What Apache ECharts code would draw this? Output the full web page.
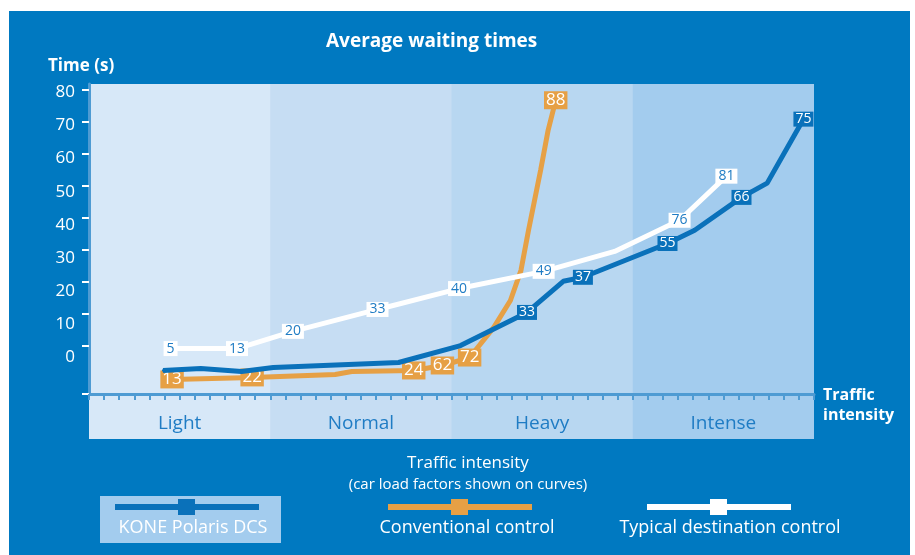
<!DOCTYPE html>
<html>
<head>
<meta charset="utf-8">
<script src="https://cdn.jsdelivr.net/npm/echarts@6/dist/echarts.min.js"></script>
<style>
  html, body { margin: 0; padding: 0; background: #fff; }
  #chart { width: 915px; height: 555px; }
</style>
</head>
<body>
<div id="chart"></div>
<script>
// traffic intensity bands (12 tick steps each on the x axis)
const bandNames = ['Light', 'Normal', 'Heavy', 'Intense']
const bandStart = [0, 12, 24, 36]
const axisEnd = 48
const timeTicks = [0, 10, 20, 30, 40, 50, 60, 70, 80]

// KONE Polaris DCS
const koneX = [4.9, 7.4, 10.1, 12.2, 20.5, 24.6, 29.0, 31.4, 32.7, 38.3, 40.1, 43.2, 44.9, 47.3]
const koneY = [-3.9, -3.3, -4.2, -3.0, -1.5, 3.6, 13.6, 23.0, 24.2, 34.4, 38.4, 48.3, 52.6, 71.9]
const koneLoad = [null, null, null, null, null, null, 33, null, 37, 55, null, 66, null, 75]

// Conventional control
const convX = [5.5, 10.8, 16.3, 17.4, 21.5, 23.4, 25.2, 26.8, 27.9, 28.6, 29.1, 29.9, 30.4, 30.9]
const convY = [-6.6, -6.0, -5.1, -4.2, -3.9, -2.4, 0, 9.1, 17.2, 26.3, 38.4, 56.5, 68.6, 77.6]
const convLoad = [13, 22, null, null, 24, 62, 72, null, null, null, null, null, null, 88]

// Typical destination control
const destX = [5.4, 9.8, 13.5, 19.1, 24.5, 30.1, 34.8, 39.1, 42.2]
const destY = [2.7, 2.7, 7.9, 14.5, 20.8, 26.0, 32.0, 41.4, 54.7]
const destLoad = [5, 13, 20, 33, 40, 49, null, 76, 81]

const BG = '#0079c1'
const AXIS = '#4e9bd3'
const KONE = '#0a71ba'
const ORANGE = '#e6a045'
const BANDS = ['#d7e8f8', '#c6ddf3', '#b8d7f1', '#a3ccee']
const FONT = "'Open Sans', 'Noto Sans', sans-serif"

function points(xs, ys, loads) {
  return xs.map((x, i) => ({
    value: [x, ys[i]],
    load: loads[i],
    label: { show: loads[i] != null }
  }))
}

function curve(name, xs, ys, loads, color, labelStyle, z) {
  return {
    name: name,
    type: 'line',
    xAxisIndex: 0,
    yAxisIndex: 0,
    z: z,
    data: points(xs, ys, loads),
    symbol: 'rect',
    symbolSize: 2,
    showAllSymbol: true,
    itemStyle: { color: color },
    lineStyle: { color: color, width: 5 },
    label: Object.assign({
      position: 'inside',
      fontFamily: FONT,
      formatter: p => p.data.load
    }, labelStyle),
    emphasis: { disabled: true },
    animation: false
  }
}

// each band runs to the axis end and the next one is laid over it: no seams
const bandAreas = bandNames.map((n, i) => [
  { xAxis: bandStart[i], itemStyle: { color: BANDS[i] } },
  { xAxis: axisEnd }
])

function bandSeries(xi, yi) {
  return {
    type: 'line', xAxisIndex: xi, yAxisIndex: yi, data: [], z: 1,
    markArea: { silent: true, label: { show: false }, data: bandAreas }
  }
}

function legendItem(cx, tx, color, label, boxed) {
  const els = []
  if (boxed) {
    els.push({ type: 'rect', shape: { x: 100, y: 496, width: 181, height: 47 }, style: { fill: '#a3ccee' } })
  }
  els.push({ type: 'rect', shape: { x: cx - 72, y: 504, width: 144, height: 6 }, style: { fill: color } })
  els.push({ type: 'rect', shape: { x: cx - 9, y: 499, width: 17, height: 16 }, style: { fill: color } })
  els.push({
    type: 'text', x: tx, y: 528,
    style: { text: label, fill: '#fff', font: '18px ' + FONT, align: 'center', verticalAlign: 'middle' }
  })
  return els
}

const chart = echarts.init(document.getElementById('chart'))
chart.setOption({
  backgroundColor: '#fff',
  animation: false,
  textStyle: { fontFamily: FONT },
  title: [
    { text: 'Average waiting times', left: 326, top: 32, padding: 0, textStyle: { color: '#fff', fontSize: 19, fontWeight: 'bold', fontFamily: FONT } },
    { text: 'Time (s)', left: 48, top: 58, padding: 0, textStyle: { color: '#fff', fontSize: 17, fontWeight: 'bold', fontFamily: FONT } },
    { text: 'Traffic\nintensity', left: 823, top: 385, padding: 0, textStyle: { color: '#fff', fontSize: 16, fontWeight: 'bold', lineHeight: 20, fontFamily: FONT } },
    {
      text: 'Traffic intensity', subtext: '(car load factors shown on curves)',
      left: 468, top: 455, textAlign: 'center', itemGap: 5, padding: 0,
      textStyle: { color: '#fff', fontSize: 17, fontWeight: 'normal', fontFamily: FONT },
      subtextStyle: { color: '#fff', fontSize: 15, fontFamily: FONT }
    }
  ],
  graphic: [
    { type: 'rect', z: -100, silent: true, shape: { x: 9, y: 11, width: 901, height: 544 }, style: { fill: BG } },
    ...legendItem(187, 193, KONE, 'KONE Polaris DCS', true),
    ...legendItem(460, 467, ORANGE, 'Conventional control', false),
    ...legendItem(719, 730, '#fff', 'Typical destination control', false)
  ],
  grid: [
    { left: 89, right: 101, top: 84, bottom: 161 },
    { left: 89, right: 101, top: 394, height: 45 }
  ],
  xAxis: [
    {
      type: 'value', gridIndex: 0, min: 0, max: axisEnd, interval: 1, z: 5,
      axisLine: { onZero: false, lineStyle: { color: AXIS, width: 3 } },
      axisTick: { show: true, length: 6, lineStyle: { color: AXIS, width: 2 } },
      axisLabel: { show: false },
      splitLine: { show: false }
    },
    { type: 'value', gridIndex: 1, min: 0, max: axisEnd, show: false },
    {
      type: 'category', gridIndex: 1, data: bandNames, position: 'top', z: 5,
      axisLine: { show: false },
      axisTick: { show: false },
      axisLabel: { inside: true, margin: 20, color: '#1f7cc4', fontSize: 19, fontFamily: FONT }
    }
  ],
  yAxis: [
    {
      type: 'value', gridIndex: 0, min: -11, max: 82.5, z: 5,
      axisLine: { show: true, onZero: false, lineStyle: { color: AXIS, width: 3 } },
      axisTick: {
        show: true, length: 7, lineStyle: { color: '#fff', width: 2 },
        customValues: [-11, 3.6, 13.3, 22.9, 32.5, 42.2, 51.8, 61.5, 71.1, 80.8]
      },
      axisLabel: { color: '#fff', fontSize: 17, margin: 14, customValues: timeTicks },
      splitLine: { show: false }
    },
    { type: 'value', gridIndex: 1, min: 0, max: 1, show: false }
  ],
  series: [
    bandSeries(0, 0),
    bandSeries(1, 1),
    curve('Conventional control', convX, convY, convLoad, ORANGE,
      { backgroundColor: ORANGE, color: '#fff', fontSize: 17, padding: [1, 2, 0, 2] }, 3),
    curve('KONE Polaris DCS', koneX, koneY, koneLoad, KONE,
      { backgroundColor: KONE, color: '#fff', fontSize: 14, padding: [1, 2, 0, 2] }, 4),
    curve('Typical destination control', destX, destY, destLoad, '#fff',
      { backgroundColor: '#fff', color: '#1f7cc4', fontSize: 14, padding: [1, 3, 0, 3] }, 5)
  ]
})
</script>
</body>
</html>
